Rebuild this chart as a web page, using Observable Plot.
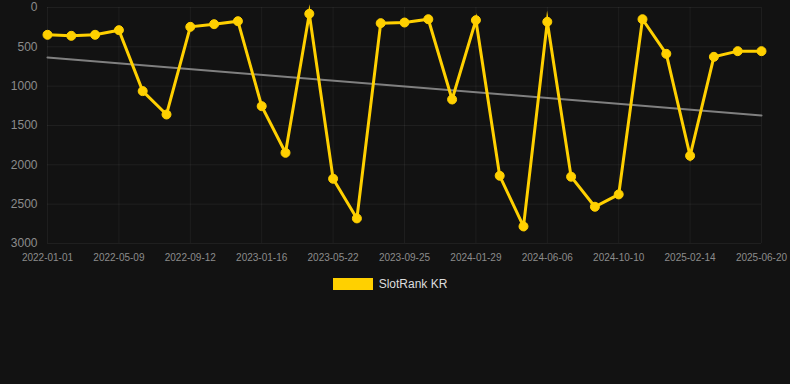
<!DOCTYPE html>
<html><head><meta charset="utf-8">
<script src="https://cdn.jsdelivr.net/npm/d3@7"></script>
<script src="https://cdn.jsdelivr.net/npm/@observablehq/plot@0.6"></script>
<style>
html,body{margin:0;padding:0;background:#121212;font-family:"Liberation Sans",Arial,sans-serif;}
#legend{display:flex;justify-content:center;align-items:center;margin-top:8px;height:12px;padding-right:10px;}
#legend .sw{width:40px;height:12px;background:#FFD000;margin-right:6px;}
#legend span{color:#dddddd;font-size:12px;}
</style></head><body>
<div id="chart"></div>
<div id="legend"><div class="sw"></div><span>SlotRank KR</span></div>
<script>
// x tick labels (every 3rd observation)
const tickLabels = ["2022-01-01","2022-05-09","2022-09-12","2023-01-16","2023-05-22","2023-09-25","2024-01-29","2024-06-06","2024-10-10","2025-02-14","2025-06-20"];
// SlotRank KR values, one per observation (31)
const ranks = [347,360,347,288,1063,1360,246,212,174,1254,1847,80,2177,2681,199,191,149,1169,161,2139,2783,182,2151,2533,2376,149,589,1885,627,555,555];
// trend line endpoints (first and last observation)
const trendValues = [635,1372];
const yTicks = [0,500,1000,1500,2000,2500,3000];

const data = ranks.map((v,i)=>({i, v}));
const trend = [{i:0, v:trendValues[0]},{i:ranks.length-1, v:trendValues[1]}];
const xTicks = tickLabels.map((_,k)=>k*3);

const chart = Plot.plot({
  width: 790, height: 270,
  marginTop: 7, marginBottom: 27, marginLeft: 47, marginRight: 29,
  style: {background:"#121212", color:"#888", fontFamily:"'Liberation Sans', Arial, sans-serif"},
  x: {type:"linear", domain:[0, ranks.length-1], ticks: xTicks, tickFormat: d => tickLabels[d/3], label:null},
  y: {domain:[0,3000], reverse:true, ticks: yTicks, label:null},
  marks: [
    Plot.gridX(xTicks, {stroke:"#ffffff", strokeOpacity:0.05, strokeWidth:1}),
    Plot.gridY(yTicks, {stroke:"#ffffff", strokeOpacity:0.06, strokeWidth:1}),
    Plot.axisX(xTicks, {tickSize:0, tickPadding:10, fontSize:10, fill:"#8c8c8c", tickFormat: d => tickLabels[d/3], label:null}),
    Plot.axisY(yTicks, {tickSize:0, tickPadding:10, fontSize:12, fill:"#8c8c8c", tickFormat: d => String(d), label:null}),
    Plot.line(trend, {x:"i", y:"v", stroke:"#808080", strokeWidth:2}),
    Plot.line(data, {x:"i", y:"v", stroke:"#FFD000", strokeWidth:3, strokeLinejoin:"miter", strokeMiterlimit:10}),
    Plot.dot(data, {x:"i", y:"v", r:4.5, fill:"#FFD000", stroke:"#FFD000", strokeWidth:1})
  ]
});
document.getElementById("chart").appendChild(chart);
</script>
</body></html>
